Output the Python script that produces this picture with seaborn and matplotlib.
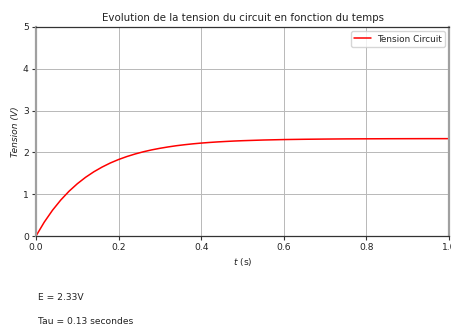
import matplotlib
matplotlib.use("Agg")
import matplotlib.pyplot as plt
import seaborn as sns
import pandas as pd

# Circuit parameters shown under the plot
E_volts = 2.33
tau_s = 0.13

# Sampled voltage across the circuit over time
t_values = [0.00, 0.02, 0.04, 0.06, 0.08, 0.10, 0.12, 0.14, 0.16, 0.18,
            0.20, 0.22, 0.24, 0.26, 0.28, 0.30, 0.32, 0.34, 0.36, 0.38,
            0.40, 0.42, 0.44, 0.46, 0.48, 0.50, 0.55, 0.60, 0.65, 0.70,
            0.75, 0.80, 0.85, 0.90, 0.95, 1.00]
u_values = [0.000, 0.332, 0.617, 0.861, 1.071, 1.250, 1.404, 1.536, 1.649, 1.747,
            1.830, 1.901, 1.962, 2.015, 2.060, 2.098, 2.131, 2.160, 2.184, 2.205,
            2.223, 2.238, 2.251, 2.262, 2.272, 2.280, 2.296, 2.307, 2.314, 2.319,
            2.323, 2.325, 2.327, 2.328, 2.329, 2.329]

x_ticks = [0.0, 0.2, 0.4, 0.6, 0.8, 1.0]
y_ticks = [0, 1, 2, 3, 4, 5]

sns.set_style("ticks")
plt.rcParams["font.family"] = ["DejaVu Sans"]

df = pd.DataFrame({"t": t_values, "u": u_values})

fig = plt.figure(figsize=(4.51, 3.25), dpi=100)
ax = fig.add_axes([36 / 451, 89 / 325, 413 / 451, 209 / 325])

sns.lineplot(data=df, x="t", y="u", ax=ax, color="red", linewidth=1.1,
             label="Tension Circuit")

ax.set_xlim(0, 1.0)
ax.set_ylim(0, 5)
ax.set_xticks(x_ticks)
ax.set_yticks(y_ticks)
ax.tick_params(labelsize=6.6, length=3, width=0.8, pad=2.2, color="#333333",
               labelcolor="#222222")
ax.grid(True, color="#b8b8b8", linewidth=0.7)

for side in ("top", "bottom"):
    ax.spines[side].set_color("#333333")
    ax.spines[side].set_linewidth(0.9)
for side in ("left", "right"):
    ax.spines[side].set_color("#a0a0a0")
    ax.spines[side].set_linewidth(1.6)

ax.set_title("Evolution de la tension du circuit en fonction du temps",
             fontsize=7.4, color="#222222", pad=4)
ax.set_xlabel("$t$ (s)", fontsize=6.6, color="#222222", labelpad=3)
ax.set_ylabel("Tension (V)", fontsize=6.6, color="#222222", style="italic",
              labelpad=2)

leg = ax.legend(loc="upper right", fontsize=6.4, frameon=True, fancybox=True,
                handlelength=1.9, handletextpad=0.6, borderpad=0.4,
                borderaxespad=0.45)
leg.get_frame().set_edgecolor("#cccccc")

fig.text(38 / 451, 1 - 298 / 325, f"E = {E_volts}V", fontsize=6.6,
         color="#222222", va="center")
fig.text(38 / 451, 1 - 321 / 325, f"Tau = {tau_s} secondes", fontsize=6.6,
         color="#222222", va="center")

fig.savefig("out.png", dpi=100)
